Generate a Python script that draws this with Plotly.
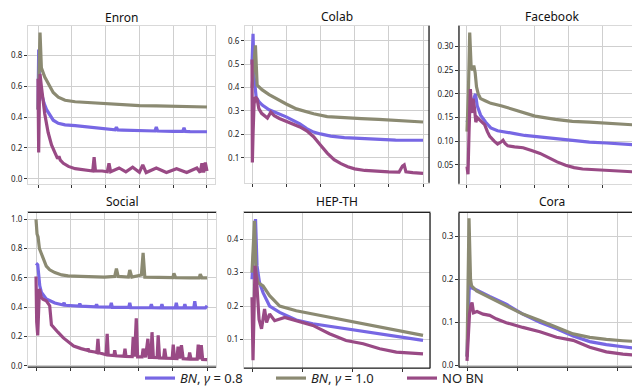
import plotly.graph_objects as go

# ---------------- data ----------------
series_names = ["<i>BN</i>, <i>γ</i> = 0.8", "<i>BN</i>, <i>γ</i> = 1.0", "NO BN"]
series_colors = ["#7767e4", "#8b8a72", "#994a85"]
panel_titles = ["Enron", "Colab", "Facebook", "Social", "HEP-TH", "Cora"]

enron_bn08 = [(0, 0.45), (0.02, 0.84), (0.05, 0.6), (0.1, 0.55), (0.18, 0.49), (0.25, 0.45), (0.35, 0.41),
              (0.45, 0.38), (0.6, 0.36), (0.8, 0.35), (1.1, 0.345), (1.5, 0.335), (2.0, 0.322), (2.28, 0.318),
              (2.32, 0.335), (2.36, 0.317), (2.5, 0.316), (3.0, 0.312), (3.46, 0.31), (3.5, 0.335), (3.54, 0.31),
              (4.0, 0.308), (4.28, 0.307), (4.32, 0.33), (4.36, 0.307), (4.5, 0.306), (5.0, 0.305)]
enron_bn10 = [(0, 0.45), (0.03, 0.7), (0.06, 0.95), (0.1, 0.72), (0.2, 0.66), (0.3, 0.62), (0.45, 0.56),
              (0.6, 0.53), (0.8, 0.51), (1.1, 0.5), (1.5, 0.495), (2.0, 0.485), (2.5, 0.48), (3.0, 0.475),
              (3.5, 0.473), (4.0, 0.47), (4.5, 0.468), (5.0, 0.466)]
enron_nobn = [(0, 0.65), (0.02, 0.17), (0.04, 0.5), (0.06, 0.68), (0.1, 0.6), (0.15, 0.5), (0.2, 0.42),
              (0.3, 0.3), (0.4, 0.22), (0.5, 0.17), (0.58, 0.13), (0.62, 0.145), (0.66, 0.12), (0.75, 0.1),
              (0.9, 0.08), (1.1, 0.065), (1.3, 0.058), (1.5, 0.055), (1.62, 0.05), (1.66, 0.14), (1.7, 0.05),
              (1.9, 0.05), (2.05, 0.045), (2.1, 0.1), (2.15, 0.045), (2.4, 0.07), (2.6, 0.045), (2.8, 0.075),
              (3.0, 0.042), (3.1, 0.09), (3.2, 0.04), (3.5, 0.07), (3.8, 0.04), (4.1, 0.065), (4.4, 0.04),
              (4.7, 0.07), (4.8, 0.04), (4.85, 0.1), (4.9, 0.04), (4.95, 0.105), (5.0, 0.05)]

colab_bn08 = [(0, 0.5), (0.03, 0.63), (0.06, 0.45), (0.12, 0.36), (0.2, 0.34), (0.3, 0.325), (0.5, 0.305),
              (0.8, 0.288), (1.0, 0.275), (1.2, 0.26), (1.4, 0.245), (1.6, 0.225), (1.8, 0.21), (2.0, 0.202),
              (2.3, 0.193), (2.7, 0.186), (3.2, 0.182), (3.7, 0.178), (4.2, 0.176), (4.6, 0.175), (5.0, 0.175)]
colab_bn10 = [(0, 0.4), (0.05, 0.5), (0.1, 0.58), (0.15, 0.41), (0.3, 0.39), (0.5, 0.37), (0.8, 0.344),
              (1.0, 0.33), (1.3, 0.309), (1.6, 0.295), (1.8, 0.288), (2.2, 0.276), (2.7, 0.27), (3.2, 0.267),
              (3.7, 0.264), (4.2, 0.26), (4.6, 0.256), (5.0, 0.253)]
colab_nobn = [(0, 0.52), (0.01, 0.08), (0.03, 0.2), (0.06, 0.33), (0.1, 0.36), (0.15, 0.35), (0.2, 0.31),
              (0.28, 0.29), (0.35, 0.28), (0.45, 0.27), (0.55, 0.295), (0.65, 0.28), (0.8, 0.268), (1.0, 0.255),
              (1.2, 0.245), (1.4, 0.232), (1.6, 0.215), (1.8, 0.19), (2.0, 0.155), (2.2, 0.12), (2.4, 0.092),
              (2.6, 0.075), (2.8, 0.062), (3.0, 0.053), (3.3, 0.046), (3.7, 0.041), (4.0, 0.04), (4.3, 0.039),
              (4.4, 0.065), (4.45, 0.07), (4.5, 0.04), (4.7, 0.037), (5.0, 0.034)]

facebook_bn08 = [(0, 0.14), (0.05, 0.15), (0.1, 0.17), (0.15, 0.16), (0.2, 0.19), (0.25, 0.2), (0.3, 0.175),
                 (0.4, 0.155), (0.55, 0.14), (0.7, 0.128), (0.9, 0.122), (1.1, 0.12), (1.4, 0.116), (1.7, 0.112),
                 (2.1, 0.109), (2.6, 0.105), (3.1, 0.101), (3.6, 0.098), (4.1, 0.096), (4.6, 0.094), (5.0, 0.092)]
facebook_bn10 = [(0, 0.12), (0.04, 0.2), (0.08, 0.33), (0.12, 0.26), (0.16, 0.25), (0.2, 0.26), (0.24, 0.245),
                 (0.28, 0.215), (0.33, 0.2), (0.4, 0.19), (0.55, 0.185), (0.7, 0.18), (1.0, 0.175), (1.3, 0.168),
                 (1.65, 0.16), (2.0, 0.153), (2.6, 0.146), (3.1, 0.142), (3.6, 0.14), (4.1, 0.138), (4.6, 0.136),
                 (5.0, 0.134)]
facebook_nobn = [(0, 0.046), (0.03, 0.03), (0.06, 0.12), (0.1, 0.21), (0.14, 0.16), (0.18, 0.19), (0.22, 0.17),
                 (0.26, 0.14), (0.3, 0.15), (0.37, 0.145), (0.45, 0.14), (0.52, 0.135), (0.6, 0.12), (0.67, 0.11),
                 (0.8, 0.1), (0.9, 0.094), (1.0, 0.098), (1.06, 0.102), (1.12, 0.095), (1.2, 0.09), (1.4, 0.088),
                 (1.65, 0.086), (1.9, 0.08), (2.15, 0.074), (2.4, 0.065), (2.65, 0.056), (2.9, 0.049),
                 (3.15, 0.044), (3.4, 0.041), (3.65, 0.04), (4.0, 0.038), (4.3, 0.036), (4.6, 0.035),
                 (4.9, 0.035), (4.95, 0.045), (5.0, 0.043)]

social_bn08 = [(0, 0.7), (0.05, 0.69), (0.11, 0.546), (0.16, 0.5), (0.3, 0.456), (0.55, 0.428), (0.79, 0.415),
               (0.82, 0.43), (0.85, 0.413), (1.25, 0.408), (1.28, 0.425), (1.31, 0.407), (1.74, 0.402),
               (1.77, 0.42), (1.8, 0.401), (2.17, 0.4), (2.2, 0.43), (2.23, 0.399), (2.71, 0.398), (2.74, 0.43),
               (2.77, 0.397), (3.34, 0.396), (3.37, 0.42), (3.4, 0.396), (3.65, 0.395), (3.68, 0.42),
               (3.71, 0.395), (4.07, 0.395), (4.1, 0.43), (4.13, 0.395), (4.32, 0.395), (4.35, 0.42),
               (4.38, 0.395), (4.61, 0.395), (4.64, 0.44), (4.67, 0.395), (4.95, 0.395), (5.0, 0.41)]
social_bn10 = [(0, 1.0), (0.03, 0.9), (0.06, 0.88), (0.1, 0.8), (0.15, 0.77), (0.22, 0.72), (0.3, 0.68),
               (0.4, 0.655), (0.55, 0.636), (0.75, 0.62), (0.94, 0.614), (1.3, 0.61), (1.62, 0.609),
               (2.0, 0.605), (2.3, 0.61), (2.35, 0.663), (2.4, 0.61), (2.7, 0.605), (2.74, 0.654), (2.8, 0.605),
               (3.08, 0.62), (3.13, 0.77), (3.18, 0.605), (3.5, 0.602), (4.0, 0.602), (4.03, 0.63), (4.08, 0.602),
               (4.5, 0.6), (4.77, 0.6), (4.8, 0.625), (4.85, 0.6), (5.0, 0.6)]
social_nobn = [(0, 0.61), (0.02, 0.3), (0.05, 0.207), (0.1, 0.525), (0.15, 0.47), (0.2, 0.455), (0.3, 0.444),
               (0.4, 0.41), (0.45, 0.28), (0.55, 0.25), (0.64, 0.229), (0.8, 0.19), (0.94, 0.161), (1.1, 0.135),
               (1.32, 0.117), (1.5, 0.105), (1.52, 0.117), (1.55, 0.1), (1.72, 0.094), (1.78, 0.09),
               (1.81, 0.184), (1.84, 0.088), (2.05, 0.075), (2.08, 0.218), (2.11, 0.073), (2.28, 0.07),
               (2.3, 0.106), (2.33, 0.068), (2.57, 0.065), (2.6, 0.117), (2.63, 0.063), (2.81, 0.062),
               (2.84, 0.195), (2.88, 0.062), (2.93, 0.324), (2.97, 0.06), (3.1, 0.06), (3.13, 0.117),
               (3.2, 0.058), (3.27, 0.184), (3.31, 0.057), (3.36, 0.057), (3.39, 0.229), (3.43, 0.056),
               (3.54, 0.055), (3.57, 0.207), (3.61, 0.054), (3.73, 0.053), (3.76, 0.117), (3.8, 0.052),
               (3.98, 0.05), (4.01, 0.144), (4.05, 0.05), (4.12, 0.049), (4.15, 0.13), (4.2, 0.049),
               (4.25, 0.14), (4.3, 0.048), (4.46, 0.046), (4.49, 0.09), (4.53, 0.046), (4.71, 0.045),
               (4.74, 0.144), (4.79, 0.044), (4.83, 0.14), (4.87, 0.043), (5.0, 0.042)]

hepth_bn08 = [(0, 0.28), (0.03, 0.35), (0.07, 0.46), (0.1, 0.32), (0.15, 0.27), (0.22, 0.24), (0.35, 0.2),
              (0.55, 0.181), (0.88, 0.158), (1.21, 0.147), (1.55, 0.139), (1.87, 0.132), (2.2, 0.124),
              (2.54, 0.117), (2.9, 0.109), (3.2, 0.102), (3.4, 0.097)]
hepth_bn10 = [(0, 0.3), (0.02, 0.384), (0.05, 0.455), (0.08, 0.3), (0.12, 0.27), (0.22, 0.26), (0.35, 0.231),
              (0.55, 0.2), (0.88, 0.186), (1.21, 0.176), (1.55, 0.166), (1.87, 0.156), (2.2, 0.147),
              (2.54, 0.137), (2.9, 0.126), (3.2, 0.117), (3.4, 0.112)]
hepth_nobn = [(0, 0.226), (0.02, 0.038), (0.06, 0.32), (0.09, 0.28), (0.14, 0.16), (0.19, 0.132), (0.25, 0.191),
              (0.29, 0.151), (0.35, 0.176), (0.45, 0.156), (0.65, 0.166), (0.88, 0.156), (1.21, 0.142),
              (1.54, 0.117), (1.87, 0.097), (2.21, 0.087), (2.54, 0.072), (2.87, 0.062), (3.2, 0.058),
              (3.4, 0.057)]

cora_bn08 = [(0, 0.02), (0.05, 0.2), (0.09, 0.18), (0.19, 0.175), (0.45, 0.16), (0.78, 0.142), (1.11, 0.119),
             (1.45, 0.1), (1.78, 0.085), (2.11, 0.068), (2.44, 0.055), (2.77, 0.048), (3.1, 0.043), (3.4, 0.039)]
cora_bn10 = [(0, 0.02), (0.04, 0.342), (0.07, 0.2), (0.09, 0.185), (0.19, 0.173), (0.45, 0.158), (0.78, 0.139),
             (1.11, 0.119), (1.45, 0.104), (1.78, 0.088), (2.11, 0.073), (2.44, 0.065), (2.77, 0.06),
             (3.1, 0.057), (3.4, 0.055)]
cora_nobn = [(0, 0.01), (0.05, 0.119), (0.08, 0.14), (0.1, 0.146), (0.13, 0.122), (0.2, 0.125), (0.32, 0.119),
             (0.45, 0.116), (0.58, 0.108), (0.78, 0.099), (1.11, 0.088), (1.45, 0.078), (1.78, 0.065),
             (2.11, 0.058), (2.44, 0.042), (2.77, 0.031), (3.1, 0.026), (3.4, 0.023)]

panel_series = [
    [enron_bn08, enron_bn10, enron_nobn],
    [colab_bn08, colab_bn10, colab_nobn],
    [facebook_bn08, facebook_bn10, facebook_nobn],
    [social_bn08, social_bn10, social_nobn],
    [hepth_bn08, hepth_bn10, hepth_nobn],
    [cora_bn08, cora_bn10, cora_nobn],
]

y_ticks = [
    [0.0, 0.2, 0.4, 0.6, 0.8],
    [0.1, 0.2, 0.3, 0.4, 0.5, 0.6],
    [0.05, 0.10, 0.15, 0.20, 0.25, 0.30],
    [0.0, 0.2, 0.4, 0.6, 0.8, 1.0],
    [0.1, 0.2, 0.3, 0.4],
    [0.0, 0.1, 0.2, 0.3],
]
y_fmt = [".1f", ".1f", ".2f", ".1f", ".1f", ".1f"]
x_ticks = [[0, 1, 2, 3, 4, 5]] * 4 + [[0, 1, 2, 3]] * 2

# ---------------- layout (pixel boxes) ----------------
W, H = 640, 389
boxes = [  # left, right, top, bottom (px)
    (20, 207, 18, 177), (237, 421, 18, 176), (451, 636, 18, 177),
    (20, 208, 206, 362), (236, 422, 206, 363), (451, 636, 206, 362),
]
x_ranges = [(-0.296, 5.237), (-0.205, 5.175), (-0.235, 5.206),
            (-0.234, 5.26), (-0.159, 3.539), (-0.159, 3.519)]
y_ranges = [(-0.032, 0.993), (-0.006, 0.6636), (0.010, 0.344),
            (-0.01, 1.047), (0.014, 0.480), (-0.0046, 0.3557)]
title_y = [10, 9, 9, 195, 195, 195]

# dark spines per panel: which sides
dark_sides = [[], ["right"], ["left"], ["top", "bottom"], ["top", "bottom", "right"], ["top", "left", "bottom"]]

fig = go.Figure()
layout = dict(
    width=W, height=H, margin=dict(l=0, r=0, t=0, b=0),
    paper_bgcolor="white", plot_bgcolor="white",
    font=dict(family="Noto Sans", color="#222"),
    showlegend=True,
    legend=dict(orientation="h", x=132 / W, xanchor="left", y=1 - 373 / H, yanchor="middle",
                font=dict(size=13, color="#222"), entrywidth=86, entrywidthmode="pixels",
                itemwidth=30, bgcolor="rgba(0,0,0,0)", tracegroupgap=0),
)
shapes = []
annotations = []
for i in range(6):
    l, r, t, b = boxes[i]
    ax = "" if i == 0 else str(i + 1)
    xa, ya = "x" + ax, "y" + ax
    layout["xaxis" + ax] = dict(
        domain=[l / W, r / W], range=list(x_ranges[i]), anchor=ya,
        tickvals=x_ticks[i], showticklabels=False, ticks="outside", ticklen=3, tickcolor="#333",
        showgrid=True, gridcolor="#cfcfcf", gridwidth=1, zeroline=False,
        showline=True, linecolor="#d9d9d9", linewidth=1, mirror=True,
    )
    layout["yaxis" + ax] = dict(
        domain=[1 - b / H, 1 - t / H], range=list(y_ranges[i]), anchor=xa,
        tickvals=y_ticks[i], tickformat=y_fmt[i], ticks="outside", ticklen=3, tickcolor="#333",
        tickfont=dict(size=8, color="#222"),
        showgrid=True, gridcolor="#cfcfcf", gridwidth=1, zeroline=False,
        showline=True, linecolor="#d9d9d9", linewidth=1, mirror=True,
    )
    for j, pts in enumerate(panel_series[i]):
        fig.add_trace(go.Scatter(
            x=[p[0] for p in pts], y=[p[1] for p in pts], mode="lines",
            line=dict(color=series_colors[j], width=3.2),
            name=series_names[j], legendgroup=str(j), showlegend=(i == 0),
            xaxis=xa, yaxis=ya,
        ))
    annotations.append(dict(text=panel_titles[i], x=(l + r) / 2 / W, y=1 - title_y[i] / H,
                            xref="paper", yref="paper", showarrow=False,
                            font=dict(size=12, color="#111"), xanchor="center", yanchor="middle"))
    for side in dark_sides[i]:
        if side == "top":
            c = (0, 1, 1, 1)
        elif side == "bottom":
            c = (0, 0, 1, 0)
        elif side == "left":
            c = (0, 0, 0, 1)
        else:
            c = (1, 0, 1, 1)
        shapes.append(dict(type="line", xref=xa + " domain", yref=ya + " domain",
                           x0=c[0], y0=c[1], x1=c[2], y1=c[3],
                           line=dict(color="#222", width=1.3)))

layout["shapes"] = shapes
layout["annotations"] = annotations
fig.update_layout(**layout)
fig.write_html("out.html")
